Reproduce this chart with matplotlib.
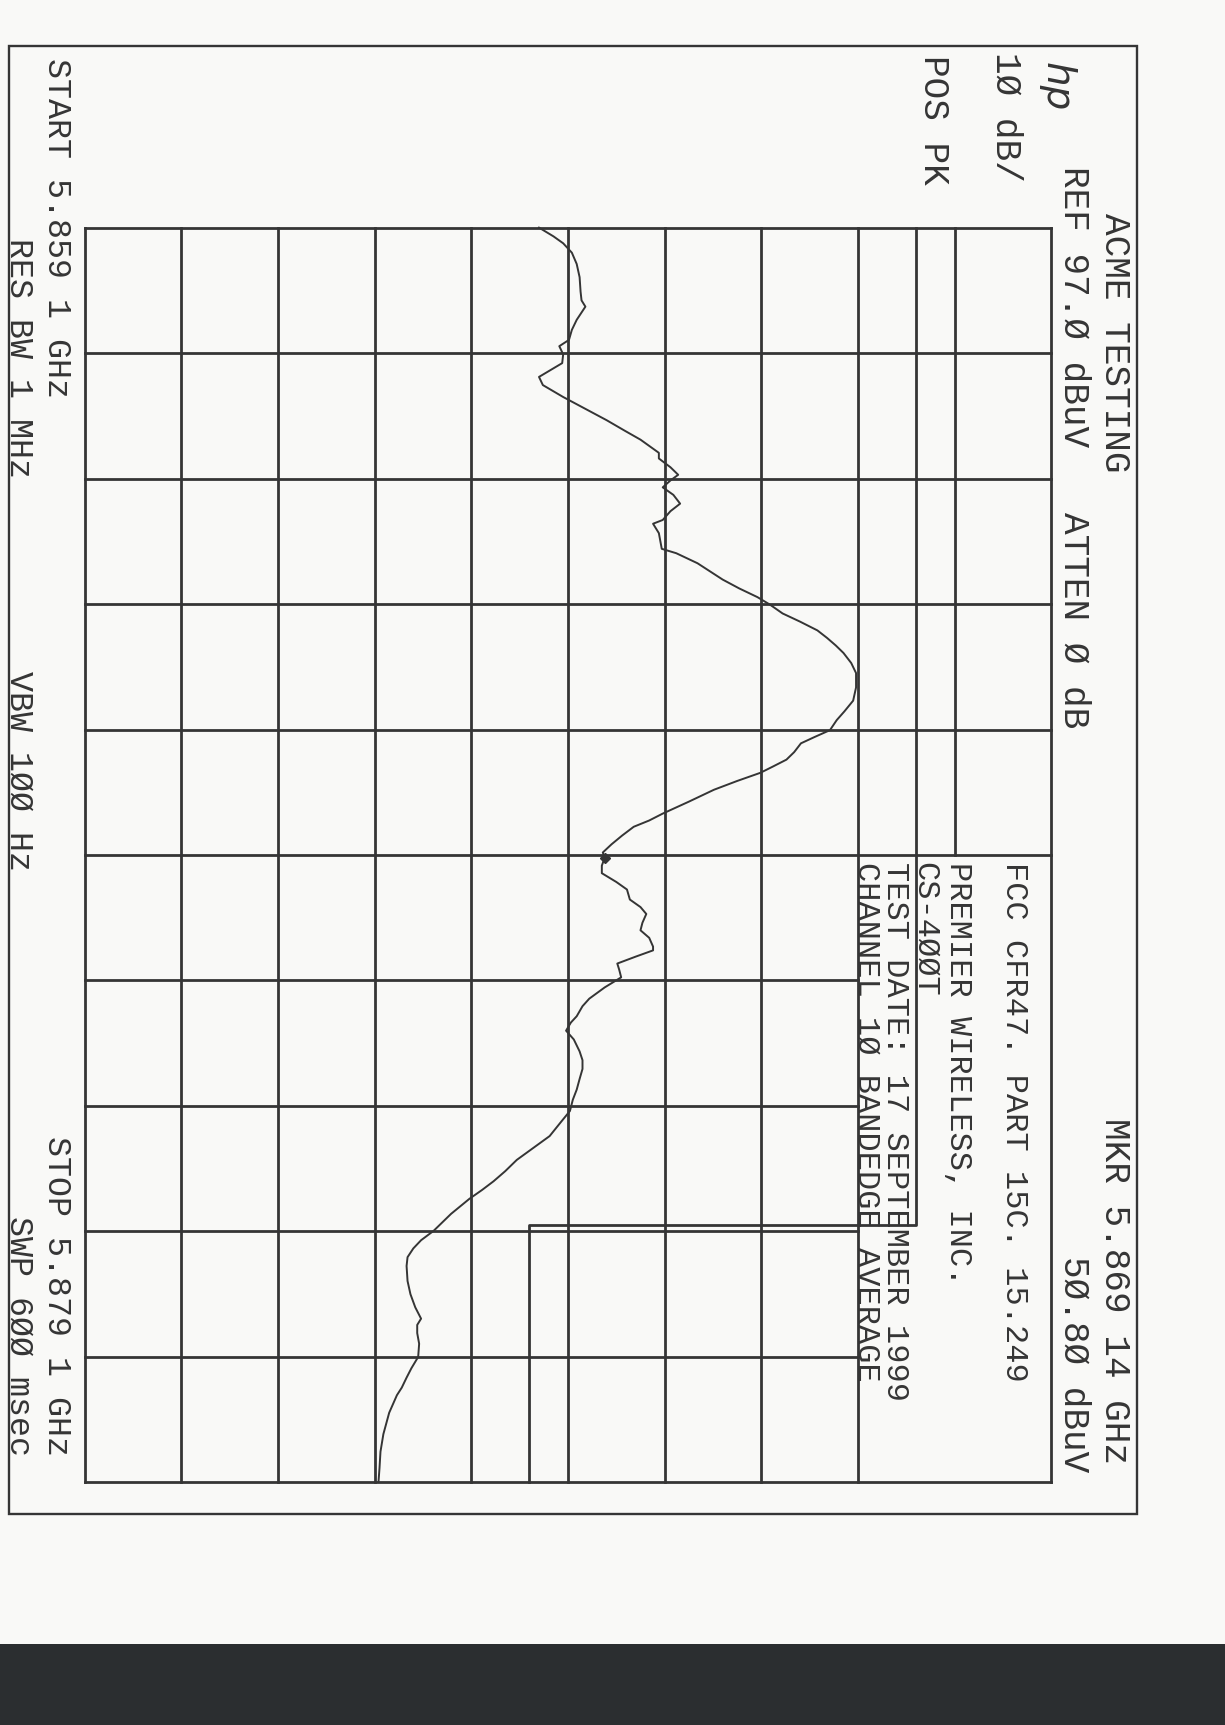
import numpy as np
import matplotlib.pyplot as plt
from matplotlib.patches import Rectangle

# spectrum analyser sweep (frequency in MHz, level in dBuV)
freq_mhz = [5859.10, 5859.24, 5859.35, 5859.50, 5859.68, 5859.89, 5860.12, 5860.26,
            5860.36, 5860.57, 5860.73, 5860.89, 5860.99, 5861.12, 5861.26, 5861.38,
            5861.48, 5861.61, 5861.80, 5861.99, 5862.17, 5862.34, 5862.48, 5862.69,
            5862.78, 5862.92, 5863.04, 5863.13, 5863.24, 5863.36, 5863.50, 5863.62,
            5863.76, 5863.82, 5863.97, 5864.22, 5864.29, 5864.45, 5864.59, 5864.71,
            5864.85, 5864.99, 5865.11, 5865.25, 5865.38, 5865.52, 5865.64, 5865.76,
            5865.88, 5866.04, 5866.20, 5866.43, 5866.64, 5866.81, 5866.95, 5867.11,
            5867.22, 5867.32, 5867.46, 5867.58, 5867.69, 5867.79, 5867.92, 5868.06,
            5868.25, 5868.44, 5868.55, 5868.65, 5868.79, 5868.93, 5869.06, 5869.14,
            5869.27, 5869.39, 5869.53, 5869.65, 5869.81, 5869.93, 5870.04, 5870.18,
            5870.30, 5870.42, 5870.56, 5870.62, 5870.72, 5870.83, 5870.93, 5871.05,
            5871.21, 5871.39, 5871.51, 5871.67, 5871.77, 5871.90, 5872.04, 5872.23,
            5872.37, 5872.51, 5872.67, 5872.84, 5873.00, 5873.18, 5873.35, 5873.58,
            5873.77, 5873.96, 5874.14, 5874.30, 5874.44, 5874.58, 5874.82, 5875.09,
            5875.24, 5875.37, 5875.51, 5875.65, 5875.89, 5876.10, 5876.31, 5876.49,
            5876.59, 5876.72, 5876.89, 5877.10, 5877.28, 5877.43, 5877.59, 5877.71,
            5877.99, 5878.33, 5878.61, 5878.87, 5879.08]
level_dbuv = [44.0, 45.5, 46.5, 47.4, 47.9, 48.2, 48.3, 48.4,
              48.8, 47.9, 47.4, 47.1, 46.1, 46.5, 46.4, 45.1,
              44.0, 44.4, 46.5, 48.8, 51.0, 52.9, 54.5, 56.4,
              56.4, 57.6, 58.4, 57.6, 56.8, 57.9, 58.6, 57.6,
              56.8, 55.8, 56.4, 56.7, 58.2, 60.4, 61.8, 63.0,
              64.7, 66.6, 67.9, 69.2, 71.0, 72.8, 73.8, 74.7,
              75.5, 76.3, 76.8, 76.8, 76.5, 75.6, 74.8, 74.1,
              72.5, 71.1, 70.4, 69.6, 68.2, 66.9, 64.5, 62.1,
              59.5, 56.8, 55.4, 53.8, 52.6, 51.5, 50.6, 50.8,
              50.5, 50.5, 52.0, 53.1, 53.4, 54.5, 55.1, 54.7,
              54.5, 55.4, 55.8, 55.8, 54.0, 52.1, 52.3, 52.5,
              50.8, 49.2, 48.5, 47.9, 47.3, 46.8, 47.6, 48.2,
              48.5, 48.5, 48.2, 47.9, 47.5, 47.2, 46.3, 45.1,
              43.4, 41.7, 40.5, 39.3, 38.1, 36.8, 34.9, 33.1,
              31.8, 31.0, 30.4, 30.3, 30.4, 30.7, 31.2, 31.8,
              31.4, 31.4, 31.6, 31.5, 30.8, 30.3, 29.8, 29.3,
              28.5, 27.9, 27.6, 27.5, 27.4]

start_mhz = 5859.1
stop_mhz = 5879.1
ref_dbuv = 97.0
db_per_div = 10

# limit line (step at the band edge)
limit_freq = [5859.1, 5875.0, 5875.0, 5879.1]
limit_level = [83.0, 83.0, 43.0, 43.0]

mkr_freq = 5869.14
mkr_level = 50.80

ink = "#353535"
mono = ["Liberation Mono", "DejaVu Sans Mono"]
W, H = 1225, 1725

fig = plt.figure(figsize=(W / 100, H / 100), dpi=100)
fig.patch.set_facecolor("#f9f9f7")

# page layer in pixels (y down) for frame, scanner bar and annotations
page = fig.add_axes([0, 0, 1, 1])
page.set_xlim(0, W)
page.set_ylim(H, 0)
page.axis("off")
page.add_patch(Rectangle((9, 46), 1128, 1468, fill=False, lw=1.7, ec=ink))
page.add_patch(Rectangle((0, 1644), W, H - 1644, color="#2b2e30", lw=0))

# graticule, rotated: level runs left->right, frequency top->bottom
gl, gr, gt, gb = 84.7, 1051.3, 227.6, 1482.4
ax = fig.add_axes([gl / W, 1 - gb / H, (gr - gl) / W, (gb - gt) / H])
ax.set_xlim(ref_dbuv - 10 * db_per_div, ref_dbuv)
ax.set_ylim(stop_mhz, start_mhz)
ax.axis("off")

amps = np.arange(ref_dbuv - 10 * db_per_div, ref_dbuv + 1, db_per_div)
freqs = np.linspace(start_mhz, stop_mhz, 11)
box_amp = amps[-3]
box_freq = freqs[5]
for a in amps:
    hi = box_freq if box_amp < a < ref_dbuv else stop_mhz
    ax.plot([a, a], [start_mhz, hi], color=ink, lw=2.0, clip_on=False, solid_capstyle="projecting")
for f in freqs:
    right = box_amp if box_freq < f < stop_mhz else ref_dbuv
    ax.plot([amps[0], right], [f, f], color=ink, lw=2.0, clip_on=False, solid_capstyle="projecting")

ax.plot(limit_level, limit_freq, color=ink, lw=2.0, clip_on=False)
ax.plot(level_dbuv, freq_mhz, color=ink, lw=1.4, clip_on=False)
ax.plot(mkr_level, mkr_freq, marker="D", ms=5, color=ink)


def label(x, y, s, size=26, **kw):
    page.text(x, y, s, rotation=-90, rotation_mode="anchor", ha="left", va="baseline",
              fontsize=size, family=mono, color=ink, **kw)


label(1105, 213, "ACME TESTING")
label(1064, 166, "REF 97.Ø dBuV   ATTEN Ø dB")
page.text(1046, 62, "hp", rotation=-90, rotation_mode="anchor", ha="left", va="baseline",
          fontsize=28, style="italic", family="DejaVu Sans", color=ink)
label(996, 52, "1Ø dB/")
label(924, 55, "POS PK")
label(1105, 1118, "MKR 5.869 14 GHz")
label(1064, 1256, "5Ø.8Ø dBuV")

label(48, 58, "START 5.859 1 GHz", size=24)
label(10, 238, "RES BW 1 MHz", size=24)
label(10, 671, "VBW 1ØØ Hz", size=24)
label(48, 1136, "STOP 5.879 1 GHz", size=24)
label(10, 1216, "SWP 6ØØ msec", size=24)

label(1006, 862, "FCC CFR47. PART 15C. 15.249", size=23)
label(950, 862, "PREMIER WIRELESS, INC.", size=23)
label(917, 862, "CS-4ØØT", size=23)
label(887, 862, "TEST DATE: 17 SEPTEMBER 1999", size=23)
label(858, 862, "CHANNEL 1Ø BANDEDGE AVERAGE", size=23)

plt.savefig("out.png", dpi=100, facecolor=fig.get_facecolor())
